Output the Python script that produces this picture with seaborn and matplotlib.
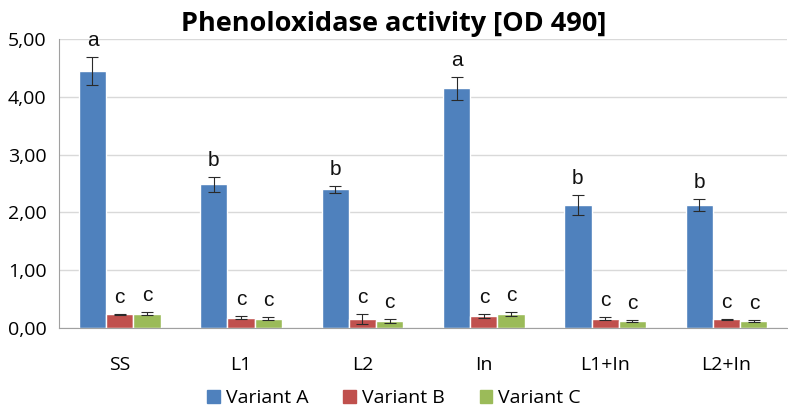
import matplotlib.pyplot as plt
from matplotlib.ticker import FuncFormatter, FixedLocator
import seaborn as sns
import pandas as pd

# values
groups = ["SS", "L1", "L2", "In", "L1+In", "L2+In"]
variants = ["Variant A", "Variant B", "Variant C"]
means_a = [4.45, 2.49, 2.40, 4.15, 2.13, 2.13]
means_b = [0.24, 0.18, 0.15, 0.21, 0.16, 0.15]
means_c = [0.25, 0.16, 0.12, 0.24, 0.12, 0.12]
err_a = [0.24, 0.13, 0.06, 0.20, 0.17, 0.10]
err_b = [0.01, 0.03, 0.09, 0.03, 0.03, 0.01]
err_c = [0.03, 0.03, 0.04, 0.04, 0.02, 0.02]
letters_a = ["a", "b", "b", "a", "b", "b"]
letters_b = ["c"] * 6
letters_c = ["c"] * 6
colors = ["#4F81BD", "#C0504D", "#9BBB59"]

df = pd.DataFrame({
    "group": groups * 3,
    "variant": [v for v in variants for _ in groups],
    "value": means_a + means_b + means_c,
})
errs = [err_a, err_b, err_c]
letters = [letters_a, letters_b, letters_c]

sns.set_style("white")
plt.rcParams["font.family"] = ["Open Sans", "DejaVu Sans"]
plt.rcParams["text.color"] = "black"
plt.rcParams["xtick.labelcolor"] = "black"
plt.rcParams["ytick.labelcolor"] = "black"

fig = plt.figure(figsize=(7.88, 4.12), dpi=100)
ax = fig.add_axes([0.075, 0.204, 0.924, 0.701])

sns.barplot(data=df, x="group", y="value", hue="variant", order=groups,
            hue_order=variants, palette=colors, width=0.675, errorbar=None,
            saturation=1, ax=ax)

for cont, e, lab in zip(ax.containers, errs, letters):
    xs = [p.get_x() + p.get_width() / 2 for p in cont]
    ys = [p.get_height() for p in cont]
    ax.errorbar(xs, ys, yerr=e, fmt="none", ecolor="#2a2a2a", elinewidth=0.8,
                capsize=4, capthick=0.8)
    for x, y, ee, t in zip(xs, ys, e, lab):
        ax.annotate(t, (x, y + ee), xytext=(0, 5), textcoords="offset points",
                    ha="center", va="bottom", fontsize=15,
                    family="Liberation Sans", color="#111111")

ax.set_ylim(0, 5)
ax.set_xlim(-0.5, 5.5)
ax.set_yticks([0, 1, 2, 3, 4, 5])
ax.yaxis.set_major_formatter(FuncFormatter(lambda v, p: f"{v:.2f}".replace(".", ",")))
ax.grid(axis="y", color="#D9D9D9", lw=1)
ax.set_axisbelow(True)
ax.set_xlabel("")
ax.set_ylabel("")

ax.xaxis.set_minor_locator(FixedLocator([i - 0.5 for i in range(len(groups) + 1)]))
ax.tick_params(axis="x", which="major", length=0, pad=20, labelsize=14)
ax.tick_params(axis="x", which="minor", length=6, color="#A0A0A0", width=1)
ax.tick_params(axis="y", length=6, color="#A0A0A0", labelsize=14, pad=3)

for s in ["top", "right"]:
    ax.spines[s].set_visible(False)
for s in ["left", "bottom"]:
    ax.spines[s].set_color("#A0A0A0")

ax.set_title("Phenoloxidase activity [OD 490]", fontsize=19.5, fontweight="bold",
             pad=6, color="black")
ax.title.set_position((0.46, 1.0))

ax.legend_.remove()
handles = [plt.Rectangle((0, 0), 1, 1, color=c) for c in colors]
fig.legend(handles, variants, loc="lower center", bbox_to_anchor=(0.5, -0.03),
           ncol=3, frameon=False, fontsize=14, handlelength=0.65,
           handleheight=0.65, handletextpad=0.3, columnspacing=1.8)

fig.savefig("out.png", dpi=100)
